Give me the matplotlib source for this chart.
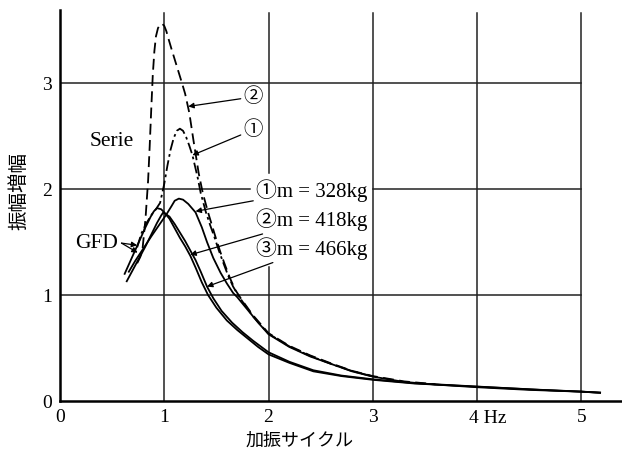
import numpy as np
import matplotlib.pyplot as plt

plt.rcParams['font.family'] = ['Liberation Serif', 'Noto Sans CJK JP', 'DejaVu Sans']

# GFD curves (solid)
gfd1_x = [0.66, 0.72, 0.80, 0.88, 0.95, 1.02, 1.07, 1.10, 1.14, 1.18, 1.23, 1.30, 1.36, 1.41, 1.47,
          1.54, 1.60, 1.66, 1.70, 1.80, 1.90, 2.00, 2.20, 2.40, 2.60, 2.80, 3.00, 3.30, 3.60, 4.00,
          4.50, 5.00, 5.18]
gfd1_y = [1.22, 1.32, 1.44, 1.56, 1.66, 1.76, 1.84, 1.89, 1.91, 1.90, 1.86, 1.78, 1.64, 1.50, 1.35,
          1.21, 1.11, 1.02, 0.98, 0.86, 0.74, 0.63, 0.51, 0.42, 0.35, 0.28, 0.23, 0.18, 0.155, 0.13,
          0.105, 0.088, 0.078]

gfd2_x = [0.62, 0.67, 0.72, 0.77, 0.82, 0.87, 0.90, 0.93, 0.97, 1.00, 1.05, 1.10, 1.15, 1.20, 1.25,
          1.30, 1.36, 1.42, 1.50, 1.60, 1.70, 1.80, 1.90, 2.00, 2.20, 2.43, 2.70, 3.00, 3.40, 3.80,
          4.20, 4.60, 5.00, 5.18]
gfd2_y = [1.20, 1.31, 1.42, 1.53, 1.64, 1.74, 1.79, 1.82, 1.81, 1.78, 1.72, 1.63, 1.54, 1.46, 1.37,
          1.26, 1.12, 1.00, 0.88, 0.76, 0.67, 0.59, 0.51, 0.44, 0.36, 0.28, 0.235, 0.20, 0.165, 0.145,
          0.125, 0.105, 0.088, 0.078]

gfd3_x = [0.64, 0.70, 0.76, 0.82, 0.88, 0.93, 0.97, 0.99, 1.05, 1.10, 1.15, 1.20, 1.25, 1.30, 1.35,
          1.41, 1.47, 1.55, 1.65, 1.75, 1.85, 2.00, 2.20, 2.43, 2.70, 3.00, 3.40, 3.80, 4.20, 4.60,
          5.00, 5.18]
gfd3_y = [1.13, 1.24, 1.35, 1.46, 1.58, 1.68, 1.75, 1.78, 1.74, 1.67, 1.59, 1.51, 1.42, 1.33, 1.22,
          1.08, 0.97, 0.85, 0.74, 0.65, 0.57, 0.46, 0.37, 0.29, 0.24, 0.205, 0.168, 0.147, 0.126, 0.106,
          0.089, 0.079]

# Serie curves
serie2_x = [0.74, 0.77, 0.79, 0.82, 0.845, 0.86, 0.875, 0.89, 0.905, 0.92, 0.94, 0.96, 0.98, 1.00,
            1.02, 1.04, 1.07, 1.12, 1.17, 1.20, 1.24, 1.28, 1.33, 1.37, 1.42, 1.46, 1.50, 1.54,
            1.58, 1.63, 1.68, 1.74, 1.85, 2.00, 2.20, 2.40, 2.60, 2.80, 3.00, 3.30, 3.60]
serie2_y = [1.30, 1.36, 1.42, 1.72, 2.08, 2.40, 2.75, 3.08, 3.30, 3.44, 3.52, 3.55, 3.56, 3.54,
            3.49, 3.42, 3.32, 3.16, 3.00, 2.90, 2.72, 2.46, 2.15, 1.96, 1.78, 1.65, 1.52, 1.40,
            1.29, 1.16, 1.05, 0.96, 0.81, 0.64, 0.52, 0.43, 0.355, 0.285, 0.235, 0.185, 0.158]

serie1_x = [0.74, 0.78, 0.83, 0.88, 0.92, 0.96, 1.00, 1.03, 1.06, 1.09, 1.12, 1.15, 1.18, 1.21,
            1.24, 1.27, 1.32, 1.35, 1.40, 1.44, 1.48, 1.52, 1.56, 1.61, 1.66, 1.72, 1.85, 2.00,
            2.20, 2.40, 2.60, 2.80, 3.00]
serie1_y = [1.45, 1.58, 1.68, 1.76, 1.81, 1.87, 2.05, 2.22, 2.37, 2.48, 2.55, 2.57, 2.55, 2.49,
            2.41, 2.32, 2.11, 1.96, 1.78, 1.66, 1.55, 1.43, 1.32, 1.19, 1.08, 0.98, 0.80, 0.635,
            0.515, 0.425, 0.35, 0.283, 0.232]

xticks = [0, 1, 2, 3, 5]
yticks = [0, 1, 2, 3]

fig = plt.figure(figsize=(6.22, 4.65), dpi=100)
ax = fig.add_axes([60/622, 64/465, 562/622, 391/465])
ax.set_xlim(0, 5.39)
ax.set_ylim(0, 3.69)

# grid drawn by hand (gaps where labels sit)
k = '#222222'
for xv in [1, 3, 4, 5]:
    ax.plot([xv, xv], [0, 3.66], color=k, lw=1.1, zorder=1)
ax.plot([2, 2], [2.15, 3.66], color=k, lw=1.1, zorder=1)
ax.plot([2, 2], [0, 1.26], color=k, lw=1.1, zorder=1)
for yv in [1, 3]:
    ax.plot([0, 5], [yv, yv], color=k, lw=1.1, zorder=1)
ax.plot([0, 1.82], [2, 2], color=k, lw=1.1, zorder=1)
ax.plot([3, 5], [2, 2], color=k, lw=1.1, zorder=1)

lw = 1.3
ax.plot(gfd1_x, gfd1_y, color='k', lw=lw)
ax.plot(gfd2_x, gfd2_y, color='k', lw=lw)
ax.plot(gfd3_x, gfd3_y, color='k', lw=lw)
ax.plot(serie2_x, serie2_y, color='k', lw=lw, dashes=(6, 3))
ax.plot(serie1_x, serie1_y, color='k', lw=lw, dashes=(6, 2, 1.5, 2))

for s in ['top', 'right']:
    ax.spines[s].set_visible(False)
for s in ['left', 'bottom']:
    ax.spines[s].set_linewidth(1.8)

ax.set_xticks(xticks)
ax.set_yticks(yticks)
ax.tick_params(length=0, labelsize=14)
ax.tick_params(axis='x', pad=6)
ax.tick_params(axis='y', pad=6)
ax.text(4.1, -0.085, '4 Hz', fontsize=14, ha='center', va='top')

ax.set_xlabel('加振サイクル', fontsize=13, family='Noto Sans CJK JP')
ax.xaxis.set_label_coords(0.427, -0.078)
ax.set_ylabel('振幅増幅', fontsize=14, family='Noto Sans CJK JP')
ax.yaxis.set_label_coords(-0.055, 0.537)

ax.text(0.5, 2.45, 'Serie', fontsize=15.5, ha='center', va='center')
ax.text(0.355, 1.49, 'GFD', fontsize=15.5, ha='center', va='center')

arr = dict(arrowstyle='-|>', color='k', lw=0.9, mutation_scale=8, shrinkA=0, shrinkB=0)
fam = ['Liberation Serif', 'Noto Sans CJK JP']
ax.annotate('②', xy=(1.23, 2.78), xytext=(1.76, 2.87), fontsize=14, va='center',
            family=fam, arrowprops=arr)
ax.annotate('①', xy=(1.27, 2.32), xytext=(1.76, 2.56), fontsize=14, va='center',
            family=fam, arrowprops=arr)
ax.annotate('①m = 328kg', xy=(1.30, 1.79), xytext=(1.88, 1.99), fontsize=15, va='center',
            family=fam, arrowprops=arr)
ax.annotate('②m = 418kg', xy=(1.25, 1.38), xytext=(1.88, 1.71), fontsize=15, va='center',
            family=fam, arrowprops=arr)
ax.annotate('③m = 466kg', xy=(1.41, 1.08), xytext=(1.88, 1.44), fontsize=15, va='center',
            family=fam, arrowprops=arr)
ax.annotate('', xy=(0.74, 1.47), xytext=(0.59, 1.49), arrowprops=arr)
ax.annotate('', xy=(0.745, 1.40), xytext=(0.59, 1.49), arrowprops=arr)

fig.savefig('out.png', dpi=100)
